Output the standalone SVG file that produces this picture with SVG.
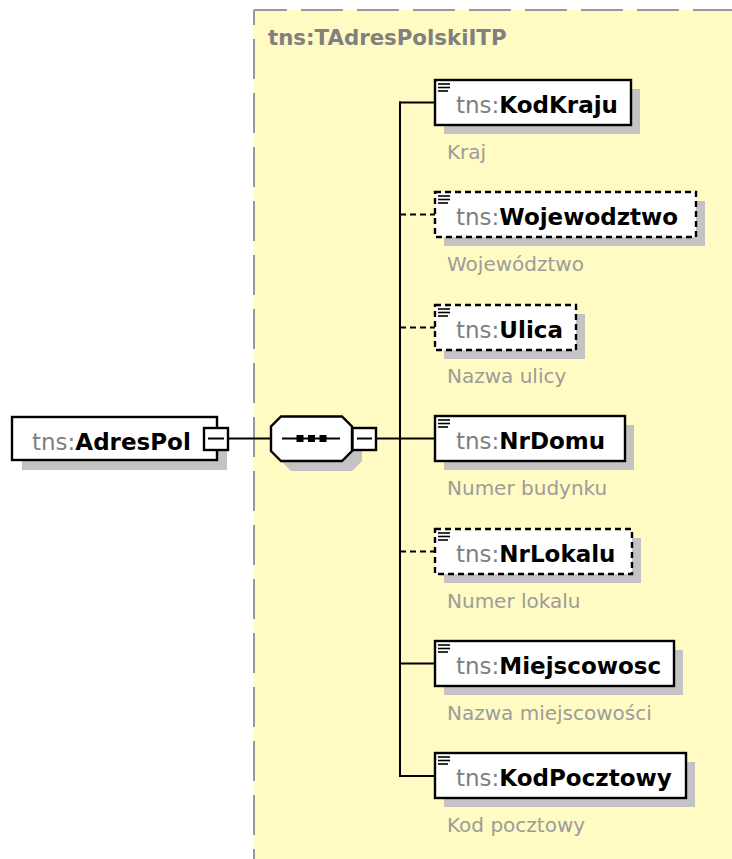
<svg xmlns="http://www.w3.org/2000/svg" width="732" height="859" viewBox="0 0 732 859">
<style>
.bg{fill:#fffbc2}
.frame{stroke:#999;stroke-width:2;fill:none}
.box{fill:#fff;stroke:#000;stroke-width:2.4}
.opt{stroke-dasharray:6 4}
.shadow{fill:#c3c3c3}
.name{font-family:"DejaVu Sans",sans-serif;font-size:23px}
.ns{fill:#808080}
.nm{font-weight:bold;fill:#000}
.desc{font-family:"DejaVu Sans",sans-serif;font-size:20px;fill:#9c9c9c}
.title{font-family:"DejaVu Sans",sans-serif;font-size:21.3px;font-weight:bold;fill:#808080}
.conn{stroke:#000;stroke-width:2;fill:none}
.icon{stroke:#000;stroke-width:1.6}
</style>
<defs>
<g id="ico"><line class="icon" x1="3" y1="4" x2="15" y2="4"/><line class="icon" x1="3" y1="7.5" x2="15" y2="7.5"/><line class="icon" x1="3" y1="11" x2="13" y2="11"/></g>
</defs>
<rect width="732" height="859" fill="#fff"/>
<g id="type-TAdresPolskiITP">
<rect class="bg" x="254" y="10" width="500" height="900"/>
<line class="frame" x1="254" y1="10" x2="732" y2="10" stroke-dasharray="42 14" stroke-dashoffset="9"/>
<line class="frame" x1="254" y1="10" x2="254" y2="859" stroke-dasharray="40 14" stroke-dashoffset="25"/>
<text class="title" x="268" y="45">tns:TAdresPolskiITP</text>
</g>
<g id="connectors">
<line class="conn" x1="228" y1="438.5" x2="271" y2="438.5"/>
<line class="conn" x1="376" y1="438.5" x2="400" y2="438.5"/>
<line class="conn" x1="400" y1="101.5" x2="400" y2="777"/>
<line class="conn" x1="399" y1="102.5" x2="435" y2="102.5"/>
<line class="conn opt" x1="400" y1="214.5" x2="435" y2="214.5"/>
<line class="conn opt" x1="400" y1="327.5" x2="435" y2="327.5"/>
<line class="conn" x1="400" y1="438.5" x2="435" y2="438.5"/>
<line class="conn opt" x1="400" y1="551.5" x2="435" y2="551.5"/>
<line class="conn" x1="400" y1="663.5" x2="435" y2="663.5"/>
<line class="conn" x1="399" y1="776" x2="435" y2="776"/>
</g>
<g id="AdresPol">
<rect class="shadow" x="22" y="427" width="205" height="43"/>
<rect class="box" x="12" y="417" width="205" height="43"/>
<text class="name" x="32" y="450"><tspan class="ns">tns:</tspan><tspan class="nm">AdresPol</tspan></text>
<rect class="box" x="204" y="428" width="24" height="22"/>
<line class="conn" x1="208" y1="438.5" x2="224" y2="438.5"/>
</g>
<g id="sequence">
<polygon class="shadow" points="291,426.5 352,426.5 362,436.5 362,461 352,471 291,471 281,461 281,436.5"/>
<polygon class="box" points="281,416.5 342,416.5 352,426.5 352,451 342,461 281,461 271,451 271,426.5"/>
<line class="conn" x1="282" y1="438.5" x2="340" y2="438.5" stroke-width="1.6"/>
<rect x="296.5" y="435" width="7" height="7" fill="#000"/>
<rect x="308" y="435" width="7" height="7" fill="#000"/>
<rect x="319.5" y="435" width="7" height="7" fill="#000"/>
<rect class="box" x="352.5" y="428" width="23.5" height="22"/>
<line class="conn" x1="357" y1="438.5" x2="372" y2="438.5"/>
</g>
<g id="KodKraju">
<rect class="shadow" x="444" y="89" width="196" height="45"/>
<rect class="box" x="435" y="80" width="196" height="45"/>
<use href="#ico" x="435" y="80"/>
<text class="name" x="456" y="113"><tspan class="ns">tns:</tspan><tspan class="nm">KodKraju</tspan></text>
<text class="desc" x="447" y="159">Kraj</text>
</g>
<g id="Wojewodztwo">
<rect class="shadow" x="444" y="201" width="261" height="45"/>
<rect class="box opt" x="435" y="192" width="261" height="45"/>
<use href="#ico" x="435" y="192"/>
<text class="name" x="456" y="225"><tspan class="ns">tns:</tspan><tspan class="nm">Wojewodztwo</tspan></text>
<text class="desc" x="447" y="271">Województwo</text>
</g>
<g id="Ulica">
<rect class="shadow" x="444" y="314" width="141" height="45"/>
<rect class="box opt" x="435" y="305" width="141" height="45"/>
<use href="#ico" x="435" y="305"/>
<text class="name" x="456" y="338"><tspan class="ns">tns:</tspan><tspan class="nm">Ulica</tspan></text>
<text class="desc" x="447" y="383">Nazwa ulicy</text>
</g>
<g id="NrDomu">
<rect class="shadow" x="444" y="425" width="190" height="45"/>
<rect class="box" x="435" y="416" width="190" height="45"/>
<use href="#ico" x="435" y="416"/>
<text class="name" x="456" y="449"><tspan class="ns">tns:</tspan><tspan class="nm">NrDomu</tspan></text>
<text class="desc" x="447" y="495">Numer budynku</text>
</g>
<g id="NrLokalu">
<rect class="shadow" x="444" y="538" width="197" height="45"/>
<rect class="box opt" x="435" y="529" width="197" height="45"/>
<use href="#ico" x="435" y="529"/>
<text class="name" x="456" y="562"><tspan class="ns">tns:</tspan><tspan class="nm">NrLokalu</tspan></text>
<text class="desc" x="447" y="608">Numer lokalu</text>
</g>
<g id="Miejscowosc">
<rect class="shadow" x="444" y="650" width="239" height="45"/>
<rect class="box" x="435" y="641" width="239" height="45"/>
<use href="#ico" x="435" y="641"/>
<text class="name" x="456" y="674"><tspan class="ns">tns:</tspan><tspan class="nm">Miejscowosc</tspan></text>
<text class="desc" x="447" y="720">Nazwa miejscowości</text>
</g>
<g id="KodPocztowy">
<rect class="shadow" x="444" y="762" width="251" height="45"/>
<rect class="box" x="435" y="753" width="251" height="45"/>
<use href="#ico" x="435" y="753"/>
<text class="name" x="456" y="786"><tspan class="ns">tns:</tspan><tspan class="nm">KodPocztowy</tspan></text>
<text class="desc" x="447" y="832">Kod pocztowy</text>
</g>
</svg>
